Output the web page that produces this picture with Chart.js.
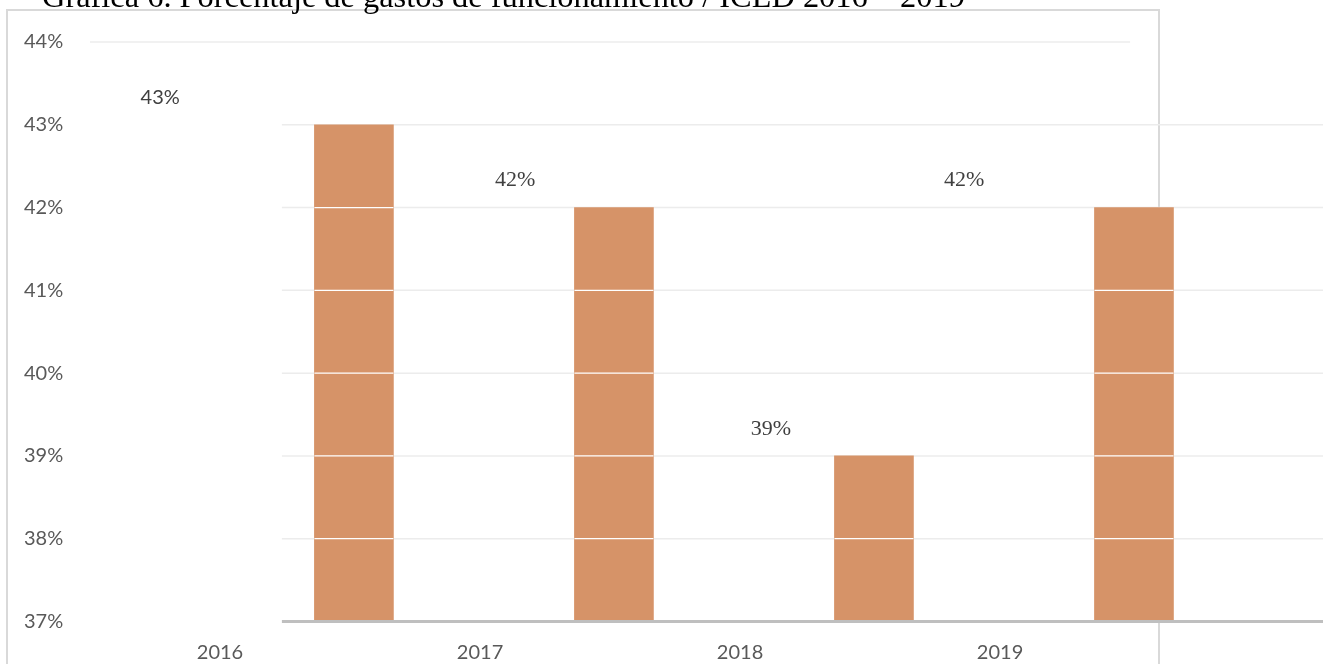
<!DOCTYPE html>
<html lang="es">
<head>
  <meta charset="UTF-8" />
  <title>Gráfica 6</title>
  <script src="https://cdn.jsdelivr.net/npm/chart.js"></script>
  <style>
    html, body {
      margin: 0;
      padding: 0;
      background: #fff;
      overflow: hidden;
    }

    #wrap {
      position: relative;
      width: 1329px;
      height: 664px;
      overflow: hidden;
    }

    #frame {
      position: absolute;
      left: 6px;
      top: 9px;
      width: 1150px;
      height: 700px;
      border: 2px solid #d9d9d9;
      z-index: 0;
    }

    #title {
      position: absolute;
      left: 42px;
      top: -20px;
      font-family: "Liberation Serif", "Times New Roman", serif;
      font-size: 32.4px;
      line-height: 32px;
      color: #000;
      white-space: nowrap;
      z-index: 2;
    }

    canvas {
      position: absolute;
      left: 0;
      top: 0;
      z-index: 1;
    }
  </style>
</head>
<body>
  <div id="wrap">
    <div id="frame"></div>
    <div id="title">Gráfica 6. Porcentaje de gastos de funcionamiento / ICLD 2016 – 2019</div>
    <canvas id="chart" width="1329" height="664"></canvas>
  </div>
  <script>
    // data
    const years = ['2016', '2017', '2018', '2019'];
    const shares = [43, 42, 39, 42];
    const tickValues = [37, 38, 39, 40, 41, 42, 43, 44];

    // layout of the (odd) original: bars and value labels sit off the year ticks
    const barShift = 0.515;
    const labelShift = [-0.23, 0.135, 0.119, -0.138];
    const serif = '22px "Liberation Serif", "Times New Roman", serif';
    const labelFonts = ['20px Lato, sans-serif', serif, serif, serif];

    const sheetPlugin = {
      id: 'sheetPlugin',
      beforeDatasetsDraw(chart) {
        const { ctx, scales: { x, y } } = chart;
        ctx.save();
        ctx.strokeStyle = '#ececec';
        ctx.lineWidth = 1.5;
        tickValues.forEach(v => {
          if (v === y.min) return;
          const py = y.getPixelForValue(v);
          const from = v === y.max ? -0.5 : 0.238;
          const to = v === y.max ? 3.5 : x.max;
          ctx.beginPath();
          ctx.moveTo(x.getPixelForValue(from), py);
          ctx.lineTo(x.getPixelForValue(to), py);
          ctx.stroke();
        });
        ctx.restore();
      },
      afterDatasetsDraw(chart) {
        const { ctx, scales: { x, y }, chartArea } = chart;
        ctx.save();

        // white seams where the grid crosses the bars
        ctx.strokeStyle = '#ffffff';
        ctx.lineWidth = 1.2;
        chart.getDatasetMeta(0).data.forEach((bar, i) => {
          const half = bar.width / 2;
          tickValues.forEach(v => {
            if (v > y.min && v < shares[i]) {
              const py = y.getPixelForValue(v);
              ctx.beginPath();
              ctx.moveTo(bar.x - half, py);
              ctx.lineTo(bar.x + half, py);
              ctx.stroke();
            }
          });
        });

        // category axis line
        ctx.strokeStyle = '#bfbfbf';
        ctx.lineWidth = 3;
        const base = y.getPixelForValue(y.min);
        ctx.beginPath();
        ctx.moveTo(x.getPixelForValue(0.238), base);
        ctx.lineTo(chartArea.right, base);
        ctx.stroke();

        // value labels
        ctx.fillStyle = '#404040';
        ctx.textAlign = 'center';
        ctx.textBaseline = 'middle';
        shares.forEach((v, i) => {
          ctx.font = labelFonts[i];
          ctx.fillText(v + '%', x.getPixelForValue(i + labelShift[i]), y.getPixelForValue(v) - 27);
        });
        ctx.restore();
      }
    };

    new Chart(document.getElementById('chart').getContext('2d'), {
      type: 'bar',
      data: {
        datasets: [{
          data: years.map((yr, i) => ({ x: i + barShift, y: shares[i] })),
          backgroundColor: '#d69368',
          borderWidth: 0,
          barThickness: 79
        }]
      },
      options: {
        responsive: false,
        animation: false,
        layout: { padding: { left: 24, right: 6, top: 42, bottom: 0 } },
        plugins: {
          legend: { display: false },
          tooltip: { enabled: false }
        },
        scales: {
          x: {
            type: 'linear',
            min: -0.5,
            max: 4.242,
            offset: false,
            grid: { display: false, drawTicks: false, offset: false },
            border: { display: false },
            afterBuildTicks: s => { s.ticks = years.map((yr, i) => ({ value: i })); },
            afterFit: s => { s.height = 42.5; },
            ticks: {
              autoSkip: false,
              maxRotation: 0,
              padding: 19,
              color: '#595959',
              font: { family: 'Lato', size: 20 },
              callback: v => years[v]
            }
          },
          y: {
            min: 37,
            max: 44,
            grid: { display: false, drawTicks: false },
            border: { display: false },
            afterBuildTicks: s => { s.ticks = tickValues.map(v => ({ value: v })); },
            afterFit: s => { s.width = 66; },
            ticks: {
              crossAlign: 'far',
              color: '#595959',
              font: { family: 'Lato', size: 20 },
              callback: v => v + '%'
            }
          }
        }
      },
      plugins: [sheetPlugin]
    });
  </script>
</body>
</html>
